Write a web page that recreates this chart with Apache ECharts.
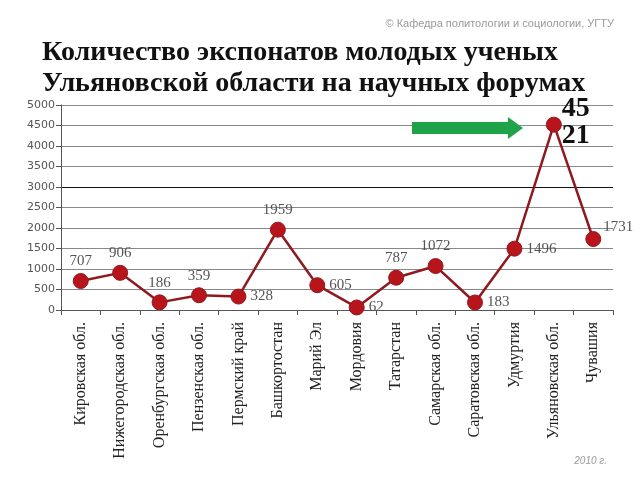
<!DOCTYPE html>
<html>
<head>
<meta charset="utf-8">
<script src="https://cdn.jsdelivr.net/npm/echarts@6/dist/echarts.min.js"></script>
<style>html,body{margin:0;padding:0;background:#fff;}#c{width:640px;height:480px;}</style>
</head>
<body>
<div id="c"></div>
<script>
const categories = ['Кировская обл.','Нижегородская обл.','Оренбургская обл.','Пензенская обл.','Пермский край','Башкортостан','Марий Эл','Мордовия','Татарстан','Самарская обл.','Саратовская обл.','Удмуртия','Ульяновская обл.','Чувашия'];
const values = [707, 906, 186, 359, 328, 1959, 605, 62, 787, 1072, 183, 1496, 4521, 1731];
const labelPos = ['top','top','top','top','right','top','right','right','top','top','right','right','right','right'];
const yTicks = [0, 500, 1000, 1500, 2000, 2500, 3000, 3500, 4000, 4500, 5000];

const chart = echarts.init(document.getElementById('c'));
const serif = '"Liberation Serif","DejaVu Serif",serif';
const data = values.map((v, i) => {
  const d = {value: v, label: {position: labelPos[i]}};
  if (i === 12) {
    d.label = {position: 'right', offset: [-4, -2], formatter: '45\n21', fontSize: 28, fontWeight: 'bold', color: '#111', lineHeight: 27};
  }
  if (i === 13) d.label = {position: 'right', offset: [-2, -12]};
  return d;
});
chart.setOption({
  animation: false,
  backgroundColor: '#fff',
  title: [
    {text: 'Количество экспонатов молодых ученых\nУльяновской области на научных форумах', left: 37, top: 32,
     textStyle: {fontFamily: serif, fontWeight: 'bold', fontSize: 28, color: '#111', lineHeight: 31}},
    {text: '© Кафедра политологии и социологии, УГТУ', right: 21, top: 13,
     textStyle: {fontFamily: '"Liberation Sans",Arial,sans-serif', fontWeight: 'normal', fontSize: 11, color: '#999'}},
    {text: '2010 г.', right: 28, top: 451,
     textStyle: {fontFamily: '"Liberation Sans",Arial,sans-serif', fontStyle: 'italic', fontWeight: 'normal', fontSize: 10, color: '#999'}}
  ],
  grid: {left: 61, right: 27, top: 105, bottom: 170},
  xAxis: {
    type: 'category', data: categories, boundaryGap: true,
    axisLine: {lineStyle: {color: '#555', width: 1}},
    axisTick: {show: true, length: 5, lineStyle: {color: '#555'}},
    axisLabel: {rotate: 90, interval: 0, fontFamily: serif, fontSize: 16, color: '#222', margin: 12}
  },
  yAxis: {
    type: 'value', min: 0, max: 5000, interval: 500,
    axisLine: {show: true, lineStyle: {color: '#555'}},
    axisTick: {show: true, length: 5, lineStyle: {color: '#555'}},
    axisLabel: {fontFamily: '"DejaVu Sans",Verdana,sans-serif', fontSize: 11, color: '#555', margin: 6,
      formatter: v => yTicks.includes(v) ? String(v) : ''},
    splitLine: {lineStyle: {color: ['#888','#888','#888','#888','#888','#888','#111','#888','#888','#888','#888'], width: 1}}
  },
  series: [{
    type: 'line', data: data,
    symbol: 'circle', symbolSize: 15,
    lineStyle: {color: '#8e1a1f', width: 2.5},
    itemStyle: {color: '#b8141b', borderColor: '#8e1a1f', borderWidth: 1},
    label: {show: true, fontFamily: serif, fontSize: 15, color: '#555', distance: 4},
    z: 3
  }],
  graphic: [
    {type: 'polygon', shape: {points: [[412,122],[508,122],[508,117],[523,128],[508,139],[508,134],[412,134]]},
     style: {fill: '#1fa34a'}, z: 10}
  ]
});
</script>
</body>
</html>
